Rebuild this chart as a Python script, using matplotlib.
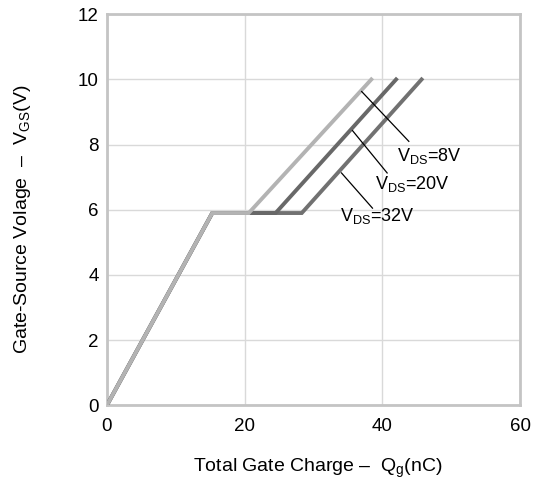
import matplotlib
matplotlib.use("Agg")
import matplotlib.pyplot as plt

plt.rcParams['font.family'] = ['Liberation Sans', 'DejaVu Sans']
plt.rcParams['mathtext.fontset'] = 'custom'
plt.rcParams['mathtext.rm'] = 'Liberation Sans'

# Data
vgs = [0, 5.9, 5.9, 10]
qg_8v = [0, 15.3, 20.6, 38.4]
qg_20v = [0, 15.3, 24.5, 42.0]
qg_32v = [0, 15.3, 28.3, 45.7]
x_ticks = [0, 20, 40, 60]
y_ticks = [0, 2, 4, 6, 8, 10, 12]
labels = [r'$\mathregular{V_{DS}}$=8V', r'$\mathregular{V_{DS}}$=20V', r'$\mathregular{V_{DS}}$=32V']
ann_from = [(37.0, 9.63), (35.67, 8.43), (34.07, 7.13)]
ann_to = [(43.85, 8.10), (40.7, 7.13), (38.57, 6.05)]
ann_text = [(42.06, 7.64), (38.98, 6.78), (33.83, 5.82)]

fig = plt.figure(figsize=(5.4, 4.93), dpi=100)
ax = fig.add_axes([0.198, 0.178, 0.765, 0.793])

ax.plot(qg_32v, vgs, color='#717171', lw=2.8, solid_joinstyle='miter', zorder=3)
ax.plot(qg_20v, vgs, color='#686868', lw=2.8, solid_joinstyle='miter', zorder=4)
ax.plot(qg_8v, vgs, color='#b3b3b3', lw=2.8, solid_joinstyle='miter', zorder=5)

for (x0, y0), (x1, y1), (tx, ty), lab in zip(ann_from, ann_to, ann_text, labels):
    ax.plot([x0, x1], [y0, y1], color='black', lw=0.9, zorder=6)
    ax.text(tx, ty, lab, fontsize=13, ha='left', va='center', color='black', zorder=7)

ax.set_xlim(0, 60)
ax.set_ylim(0, 12)
ax.set_xticks(x_ticks)
ax.set_yticks(y_ticks)
ax.grid(True, color='#d9d9d9', lw=1.0, zorder=0)
ax.set_axisbelow(True)
for s in ax.spines.values():
    s.set_color('#c4c4c4')
    s.set_linewidth(2.0)
ax.tick_params(length=0, labelsize=13.5, pad=6)
ax.tick_params(axis='x', pad=9)

fig.text(0.588, 0.05, r'Total Gate Charge –  $\mathregular{Q_g}$(nC)', fontsize=14, ha='center', va='center')
fig.text(0.041, 0.555, r'Gate-Source Volage  –  $\mathregular{V_{GS}}$(V)', fontsize=14, ha='center', va='center', rotation=90)

fig.savefig('out.png', dpi=100)
